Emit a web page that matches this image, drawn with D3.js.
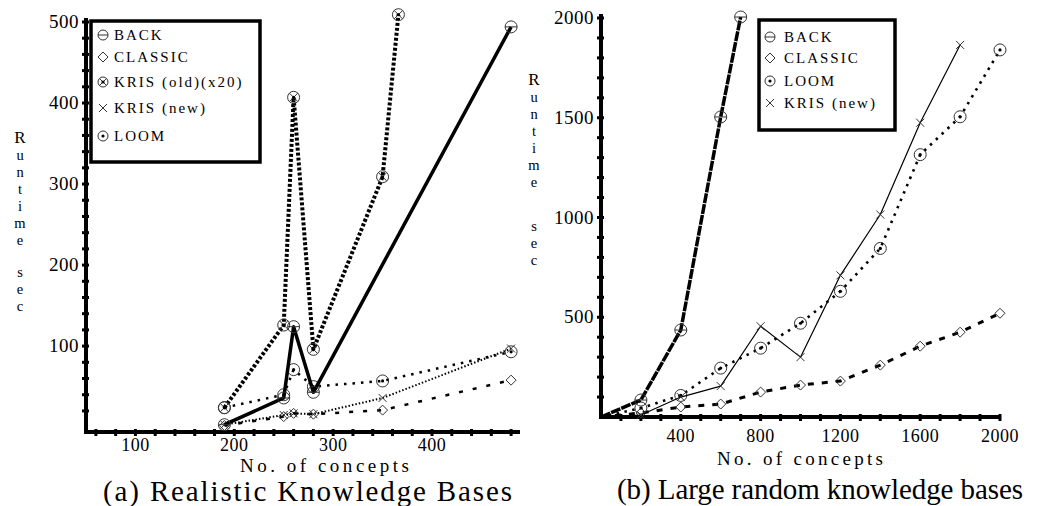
<!DOCTYPE html>
<html>
<head>
<meta charset="utf-8">
<script src="https://cdn.jsdelivr.net/npm/d3@7"></script>
<style>
  body { margin: 0; background: #fff; }
  text { font-family: "Liberation Serif", "DejaVu Serif", serif; fill: #000; }
</style>
</head>
<body>
<div id="chart"></div>
<script>

// ---- left chart data: realistic knowledge bases ----
var backLX = [190, 250, 260, 280, 480];
var backLY = [3, 36, 124, 43, 494];
var classicLX = [190, 250, 260, 280, 350, 480];
var classicLY = [2, 13, 17, 16, 21, 58];
var krisOldLX = [190, 250, 260, 280, 350, 366];
var krisOldLY = [24, 126, 407, 96, 309, 509];
var krisNewLX = [190, 250, 260, 280, 350, 480];
var krisNewLY = [3, 15, 17, 16, 36, 97];
var loomLX = [190, 250, 260, 280, 350, 480];
var loomLY = [24, 40, 71, 50, 57, 93];

// ---- right chart data: large random knowledge bases ----
var backRX = [0, 200, 400, 600, 700];
var backRY = [0, 85, 436, 1504, 2005];
var classicRX = [0, 200, 400, 600, 800, 1000, 1200, 1400, 1600, 1800, 2000];
var classicRY = [0, 20, 50, 65, 125, 160, 180, 260, 355, 425, 520];
var loomRX = [0, 200, 400, 600, 800, 1000, 1200, 1400, 1600, 1800, 2000];
var loomRY = [0, 45, 108, 245, 345, 470, 630, 845, 1315, 1505, 1840];
var krisNewRX = [0, 200, 400, 600, 800, 1000, 1200, 1400, 1600, 1800];
var krisNewRY = [0, 10, 100, 155, 455, 300, 710, 1015, 1475, 1865];

// tick labels
var leftXTicks = [100, 200, 300, 400];
var leftYTicks = [100, 200, 300, 400, 500];
var rightXTicks = [400, 800, 1200, 1600, 2000];
var rightYTicks = [500, 1000, 1500, 2000];

var w = 1039, h = 506;

var svg = d3.select('#chart').append('svg')
  .attr('width', w)
  .attr('height', h);

svg.append('rect').attr('width', w).attr('height', h).attr('fill', '#fff');

// marker shapes
function markerPath(type, r) {
  var c = 'M' + (-r) + ',0A' + r + ',' + r + ' 0 1,0 ' + r + ',0A' + r + ',' + r + ' 0 1,0 ' + (-r) + ',0';
  if (type == 'minus') return c + 'M' + (-r) + ',0H' + r;
  if (type == 'otimes') {
    var k = r * 0.7;
    return c + 'M' + (-k) + ',' + (-k) + 'L' + k + ',' + k + 'M' + (-k) + ',' + k + 'L' + k + ',' + (-k);
  }
  if (type == 'odot') return c;
  if (type == 'diamond') return 'M0,' + (-r) + 'L' + r + ',0L0,' + r + 'L' + (-r) + ',0Z';
  if (type == 'cross') {
    var q = r * 0.8;
    return 'M' + (-q) + ',' + (-q) + 'L' + q + ',' + q + 'M' + (-q) + ',' + q + 'L' + q + ',' + (-q);
  }
}

function addMarker(g, type, cx, cy, r) {
  var m = g.append('g').attr('transform', 'translate(' + cx + ',' + cy + ')');
  m.append('path')
    .attr('d', markerPath(type, r))
    .attr('fill', 'none')
    .attr('stroke', '#333')
    .attr('stroke-width', 1);
  if (type == 'odot' || type == 'otimes') {
    m.append('circle').attr('r', 1.6).attr('fill', '#000');
  }
}

function drawSeries(g, x, y, xs, ys, style, type, r) {
  var pts = xs.map(function(d, i) { return [x(d), y(ys[i])]; });
  g.append('path')
    .attr('d', d3.line()(pts))
    .attr('fill', 'none')
    .attr('stroke', '#000')
    .attr('stroke-width', style.width)
    .attr('stroke-dasharray', style.dash || null)
    .attr('stroke-linejoin', 'round');
  pts.forEach(function(p, i) {
    if (style.skip && style.skip.indexOf(i) >= 0) return;
    addMarker(g, type, p[0], p[1], r);
  });
}

function drawAxes(g, x, y, xTicks, xMinor, yTicks, yMinor, yTop, xLabelOff) {
  var x0 = x.range()[0], x1 = x.range()[1];
  var y0 = y.range()[0];

  g.append('line').attr('x1', x0).attr('x2', x0).attr('y1', yTop).attr('y2', y0 + 2)
    .attr('stroke', '#000').attr('stroke-width', 4);
  g.append('line').attr('x1', x0 - 2).attr('x2', x1).attr('y1', y0).attr('y2', y0)
    .attr('stroke', '#000').attr('stroke-width', 4);

  // little tick marks straddling the axes
  g.selectAll('.ytick').data(yMinor).enter().append('line')
    .attr('x1', x0 - 4).attr('x2', x0 + 3)
    .attr('y1', function(d) { return y(d); })
    .attr('y2', function(d) { return y(d); })
    .attr('stroke', '#000').attr('stroke-width', 3);
  g.selectAll('.xtick').data(xMinor).enter().append('line')
    .attr('y1', y0 - 3).attr('y2', y0 + 4)
    .attr('x1', function(d) { return x(d); })
    .attr('x2', function(d) { return x(d); })
    .attr('stroke', '#000').attr('stroke-width', 3);

  g.selectAll('.ylab').data(yTicks).enter().append('text')
    .attr('x', x0 - 7)
    .attr('y', function(d) { return y(d) + 6; })
    .attr('text-anchor', 'end')
    .style('font-size', '19px')
    .style('letter-spacing', '0.5px')
    .text(function(d) { return d; });
  g.selectAll('.xlab').data(xTicks).enter().append('text')
    .attr('x', function(d) { return x(d); })
    .attr('y', y0 + xLabelOff)
    .attr('text-anchor', 'middle')
    .style('font-size', '18px')
    .style('letter-spacing', '0.5px')
    .text(function(d) { return d; });
}

// "Runtime sec" stacked letter by letter
function vertLabel(g, cx, ys) {
  var letters = ['R', 'u', 'n', 't', 'i', 'm', 'e', 's', 'e', 'c'];
  var t = g.append('text').attr('text-anchor', 'middle');
  letters.forEach(function(l, i) {
    t.append('tspan')
      .attr('x', cx)
      .attr('y', ys[i])
      .style('font-size', i == 0 ? '17px' : '14.5px')
      .text(l);
  });
}

function legend(g, bx, by, bw, bh, items) {
  g.append('rect')
    .attr('x', bx).attr('y', by).attr('width', bw).attr('height', bh)
    .attr('fill', '#fff').attr('stroke', '#000').attr('stroke-width', 3.5);
  items.forEach(function(it) {
    addMarker(g, it.type, it.sx, it.y, 5);
    g.append('text')
      .attr('x', it.tx)
      .attr('y', it.y + 5)
      .style('font-size', '15px')
      .style('letter-spacing', '2px')
      .text(it.label);
  });
}

// ================= left chart =================
var xL = d3.scaleLinear().domain([50, 489]).range([86, 520]);
var yL = d3.scaleLinear().domain([-6, 500]).range([432, 22]);
var gL = svg.append('g');

drawAxes(gL, xL, yL, leftXTicks, d3.range(60, 490, 20), leftYTicks, d3.range(20, 501, 20), 18, 19);

drawSeries(gL, xL, yL, krisOldLX, krisOldLY, { width: 4, dash: '3,2' }, 'otimes', 6);
drawSeries(gL, xL, yL, loomLX, loomLY, { width: 2.5, dash: '2.5,6' }, 'odot', 6);
drawSeries(gL, xL, yL, krisNewLX, krisNewLY, { width: 2, dash: '1.5,2' }, 'cross', 5);
drawSeries(gL, xL, yL, classicLX, classicLY, { width: 2.5, dash: '4,10' }, 'diamond', 5);
drawSeries(gL, xL, yL, backLX, backLY, { width: 3.5 }, 'minus', 6);

legend(gL, 91, 21, 169, 141, [
  { type: 'minus', sx: 103, tx: 114, y: 35, label: 'BACK' },
  { type: 'diamond', sx: 103, tx: 114, y: 57, label: 'CLASSIC' },
  { type: 'otimes', sx: 103, tx: 114, y: 82, label: 'KRIS (old)(x20)' },
  { type: 'cross', sx: 103, tx: 114, y: 108, label: 'KRIS (new)' },
  { type: 'odot', sx: 103, tx: 114, y: 136, label: 'LOOM' }
]);

vertLabel(gL, 20, [143, 160, 177, 194, 211, 228, 245, 277, 294, 311]);

gL.append('text')
  .attr('x', 240).attr('y', 472)
  .attr('textLength', 169).attr('lengthAdjust', 'spacing')
  .style('font-size', '19px')
  .text('No. of concepts');
gL.append('text')
  .attr('x', 103).attr('y', 501)
  .attr('textLength', 409).attr('lengthAdjust', 'spacing')
  .style('font-size', '29px')
  .text('(a) Realistic Knowledge Bases');

// ================= right chart =================
var xR = d3.scaleLinear().domain([0, 2000]).range([601, 1000]);
var yR = d3.scaleLinear().domain([0, 2000]).range([417, 18]);
var gR = svg.append('g');

drawAxes(gR, xR, yR, rightXTicks, d3.range(100, 2001, 100), rightYTicks, d3.range(100, 2001, 100), 14, 25);

drawSeries(gR, xR, yR, classicRX, classicRY, { width: 3, dash: '6,8', skip: [0] }, 'diamond', 5);
drawSeries(gR, xR, yR, loomRX, loomRY, { width: 2.6, dash: '2.5,5.5', skip: [0] }, 'odot', 6);
drawSeries(gR, xR, yR, krisNewRX, krisNewRY, { width: 1.2, skip: [0] }, 'cross', 5);
drawSeries(gR, xR, yR, backRX, backRY, { width: 3.5, dash: '10,1', skip: [0] }, 'minus', 6);

legend(gR, 759, 20, 136, 110, [
  { type: 'minus', sx: 770, tx: 784, y: 37, label: 'BACK' },
  { type: 'diamond', sx: 770, tx: 784, y: 58, label: 'CLASSIC' },
  { type: 'odot', sx: 770, tx: 784, y: 81, label: 'LOOM' },
  { type: 'cross', sx: 770, tx: 784, y: 103, label: 'KRIS (new)' }
]);

vertLabel(gR, 534, [85, 102, 119, 136, 153, 170, 187, 231, 248, 265]);

gR.append('text')
  .attr('x', 717).attr('y', 465)
  .attr('textLength', 166).attr('lengthAdjust', 'spacing')
  .style('font-size', '19px')
  .text('No. of concepts');
gR.append('text')
  .attr('x', 617).attr('y', 499)
  .attr('textLength', 406).attr('lengthAdjust', 'spacing')
  .style('font-size', '29px')
  .text('(b) Large random knowledge bases');

</script>
</body>
</html>
